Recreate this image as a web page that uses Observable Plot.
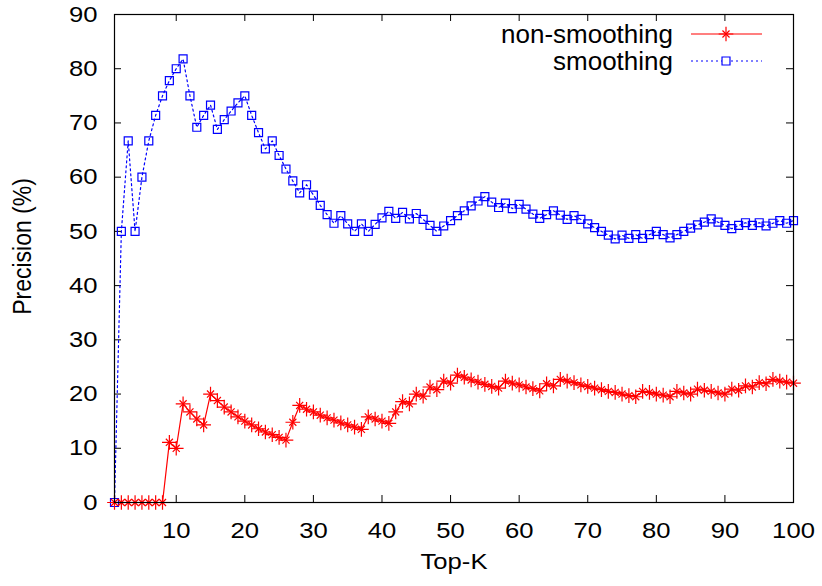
<!DOCTYPE html>
<html>
<head>
<meta charset="utf-8">
<script src="https://cdn.jsdelivr.net/npm/d3@7"></script>
<script src="https://cdn.jsdelivr.net/npm/@observablehq/plot@0.6"></script>
<style>
  html, body { margin: 0; padding: 0; background: #fff; }
  #chart svg { display: block; }
</style>
</head>
<body>
<div id="chart"></div>
<script>
// ---- data ----
const topK = [1,2,3,4,5,6,7,8,9,10,11,12,13,14,15,16,17,18,19,20,
  21,22,23,24,25,26,27,28,29,30,31,32,33,34,35,36,37,38,39,40,
  41,42,43,44,45,46,47,48,49,50,51,52,53,54,55,56,57,58,59,60,
  61,62,63,64,65,66,67,68,69,70,71,72,73,74,75,76,77,78,79,80,
  81,82,83,84,85,86,87,88,89,90,91,92,93,94,95,96,97,98,99,100];

const nonSmoothing = [0,0,0,0,0,0,0,0,11.1,10,
  18.2,16.7,15.4,14.3,20,18.8,17.6,16.7,15.8,15,
  14.3,13.6,13,12.5,12,11.5,14.8,17.9,17.2,16.7,
  16.1,15.6,15.2,14.7,14.3,13.9,13.5,15.8,15.4,15,
  14.6,16.7,18.6,18.2,20,19.6,21.3,20.8,22.4,22,
  23.5,23.1,22.6,22.2,21.8,21.4,21.1,22.4,22,21.7,
  21.3,21,20.6,21.9,21.5,22.7,22.4,22.1,21.7,21.4,
  21.1,20.8,20.5,20.3,20,19.7,19.5,20.5,20.3,20,
  19.8,19.5,20.5,20.2,20,20.9,20.7,20.5,20.2,20,
  20.9,20.7,21.5,21.3,22.1,21.9,22.7,22.4,22.2,22];

const smoothing = [0,50,66.7,50,60,66.7,71.4,75,77.8,80,
  81.8,75,69.2,71.4,73.3,68.8,70.6,72.2,73.7,75,
  71.4,68.2,65.2,66.7,64,61.5,59.3,57.1,58.6,56.7,
  54.8,53.1,51.5,52.9,51.4,50,51.4,50,51.3,52.5,
  53.7,52.4,53.5,52.3,53.3,52.2,51.1,50,51,52,
  52.9,53.8,54.7,55.6,56.4,55.4,54.4,55.2,54.2,55,
  54.1,53.2,52.4,53.1,53.8,53,52.2,52.9,52.2,51.4,
  50.7,50,49.3,48.6,49.3,48.7,49.4,48.7,49.4,50,
  49.4,48.8,49.4,50,50.6,51.2,51.7,52.3,51.7,51.1,
  50.5,51.1,51.6,51.1,51.6,51,51.5,52,51.5,52];

const xTicks = [10,20,30,40,50,60,70,80,90,100];
const yTicks = [0,10,20,30,40,50,60,70,80,90];
const seriesNames = ["non-smoothing", "smoothing"];
const xLabel = "Top-K";
const yLabel = "Precision (%)";

const RED = "#ff0000";
const BLUE = "#0000ff";

const red = topK.map((k, i) => ({k, v: nonSmoothing[i]}));
const blue = topK.map((k, i) => ({k, v: smoothing[i]}));

const W = 822, H = 586;
const mL = 114, mR = 29, mT = 14, mB = 84;
const fw = W - mL - mR, fh = H - mT - mB;
const tick = 7;
const FS = 22.5;
const SX = 1.14; // horizontal stretch of glyphs seen in the reference
const FONT = "Liberation Sans, Arial, Helvetica, sans-serif";

const svg = Plot.plot({
  width: W,
  height: H,
  marginLeft: mL,
  marginRight: mR,
  marginTop: mT,
  marginBottom: mB,
  style: {fontFamily: FONT, fontSize: FS + "px", background: "#fff", color: "#000"},
  x: {domain: [1, 100]},
  y: {domain: [0, 90]},
  marks: [
    Plot.axisX(xTicks, {tickSize: 0, tickPadding: 20, fontSize: FS, label: null}),
    Plot.axisY(yTicks, {tickSize: 0, tickPadding: 17, fontSize: FS, label: null}),
    // inward ticks on all sides
    Plot.ruleX(xTicks, {x: d => d, insetTop: fh - tick, stroke: "#000"}),
    Plot.ruleX(xTicks, {x: d => d, insetBottom: fh - tick, stroke: "#000"}),
    Plot.ruleY(yTicks, {y: d => d, insetRight: fw - tick, stroke: "#000"}),
    Plot.ruleY(yTicks, {y: d => d, insetLeft: fw - tick, stroke: "#000"}),
    Plot.line(blue, {x: "k", y: "v", stroke: BLUE, strokeWidth: 1.2, strokeDasharray: "2,3"}),
    Plot.dot(blue, {x: "k", y: "v", symbol: "square", r: 4.5, stroke: BLUE, fill: "none", strokeWidth: 1.2}),
    Plot.line(red, {x: "k", y: "v", stroke: RED, strokeWidth: 1.2}),
    Plot.dot(red, {x: "k", y: "v", symbol: "plus", r: 4.8, stroke: RED, strokeWidth: 1.2}),
    Plot.dot(red, {x: "k", y: "v", symbol: "times", r: 3.3, stroke: RED, strokeWidth: 1.2}),
    Plot.frame({stroke: "#000", strokeWidth: 1.2}),
    Plot.text([xLabel], {frameAnchor: "bottom", dy: 66, fontSize: FS, fill: "#000", textAnchor: "middle"}),
    Plot.text([yLabel], {frameAnchor: "left", dx: -92, dy: -12, rotate: -90, fontSize: 23, fill: "#000", textAnchor: "middle"})
  ]
});

// legend
const g = d3.select(svg).append("g")
  .attr("class", "legend")
  .attr("font-family", FONT)
  .attr("font-size", 25);
const legendRows = [
  {name: seriesNames[0], color: RED, dash: null, y: 34},
  {name: seriesNames[1], color: BLUE, dash: "2,3", y: 61}
];
legendRows.forEach(row => {
  g.append("text").attr("x", 673).attr("y", row.y).attr("dy", "0.36em")
    .attr("text-anchor", "end").attr("fill", "#000").text(row.name);
  g.append("line").attr("x1", 691).attr("x2", 762).attr("y1", row.y).attr("y2", row.y)
    .attr("stroke", row.color).attr("stroke-width", 1.2)
    .attr("stroke-dasharray", row.dash);
});
g.append("path").attr("transform", "translate(726,34)")
  .attr("d", d3.symbol(d3.symbolPlus, Math.PI * 4.8 * 4.8)())
  .attr("stroke", RED).attr("fill", "none").attr("stroke-width", 1.2);
g.append("path").attr("transform", "translate(726,34)")
  .attr("d", d3.symbol(d3.symbolTimes, Math.PI * 3.3 * 3.3)())
  .attr("stroke", RED).attr("fill", "none").attr("stroke-width", 1.2);
g.append("path").attr("transform", "translate(726,61)")
  .attr("d", d3.symbol(d3.symbolSquare, Math.PI * 4.5 * 4.5)())
  .attr("stroke", BLUE).attr("fill", "#fff").attr("stroke-width", 1.2);

// widen glyphs horizontally around each text's anchor point
function num(v) {
  if (v == null || /em/.test(v)) return 0;
  const n = parseFloat(v);
  return isFinite(n) ? n : 0;
}
svg.querySelectorAll("text").forEach(t => {
  const tr = t.getAttribute("transform") || "";
  const rotated = /rotate/.test(tr);
  const inLegend = !!t.closest("g.legend");
  const sx = inLegend ? 1.04 : SX;
  if (rotated) {
    const y = num(t.getAttribute("y"));
    t.setAttribute("transform", `${tr} translate(0,${y}) scale(1,${sx}) translate(0,${-y})`);
  } else {
    const x = num(t.getAttribute("x"));
    t.setAttribute("transform", `${tr} translate(${x},0) scale(${sx},1) translate(${-x},0)`);
  }
});

document.getElementById("chart").appendChild(svg);
</script>
</body>
</html>
